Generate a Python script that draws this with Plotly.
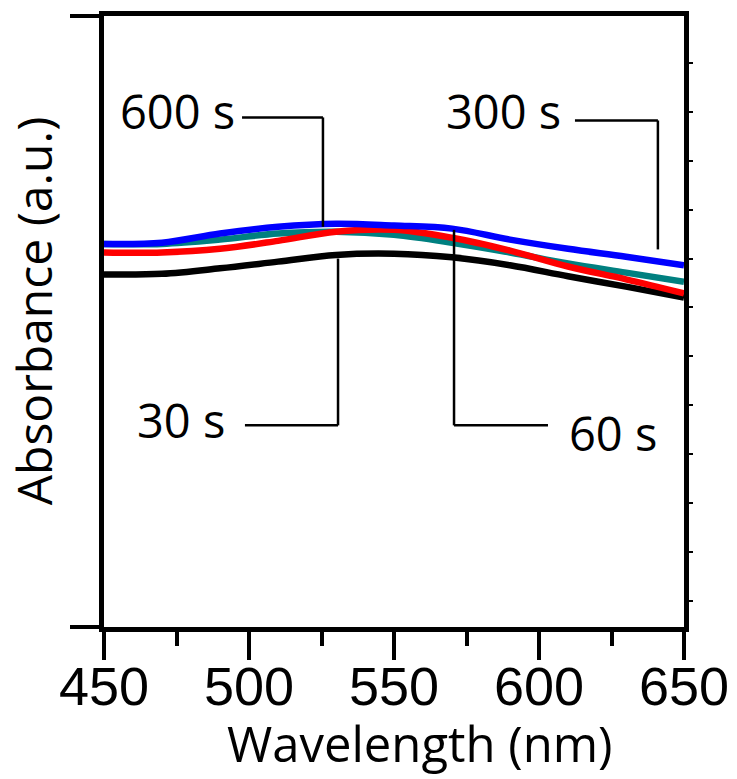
import plotly.graph_objects as go

wavelength = [450, 470, 490, 510, 530, 550, 570, 590, 610, 630, 650]
abs_30s = [0.577, 0.578, 0.587, 0.598, 0.609, 0.611, 0.605, 0.592, 0.574, 0.557, 0.539]
abs_60s = [0.613, 0.613, 0.619, 0.632, 0.647, 0.650, 0.637, 0.616, 0.590, 0.569, 0.546]
abs_300s = [0.627, 0.629, 0.644, 0.655, 0.660, 0.657, 0.652, 0.634, 0.619, 0.606, 0.592]
abs_600s = [0.627, 0.627, 0.634, 0.644, 0.647, 0.642, 0.629, 0.613, 0.595, 0.580, 0.565]

x_ticks = [450, 500, 550, 600, 650]
x_tick_labels = ["450", "500", "550", "600", "650"]

series = [
    ("30 s", abs_30s, "#000000"),
    ("600 s", abs_600s, "#008080"),
    ("60 s", abs_60s, "#FF0000"),
    ("300 s", abs_300s, "#0000FF"),
]

fig = go.Figure()
for name, vals, col in series:
    fig.add_trace(go.Scatter(x=wavelength, y=vals, mode="lines", name=name,
                             line=dict(color=col, width=6.5, shape="spline", smoothing=1.0),
                             showlegend=False))
# helper trace so the right-hand axis is drawn
fig.add_trace(go.Scatter(x=wavelength, y=abs_30s, yaxis="y2", mode="lines",
                         line=dict(width=0), opacity=0, showlegend=False, hoverinfo="skip"))

LW = 2.5
# leader lines: (label, text x, text y, horizontal x0, x1, horizontal y, vertical x, vertical end y)
leaders = [
    ("600 s", 475.5, 0.845, 497.6, 525.5, 0.834, 525.5, 0.655),
    ("300 s", 587.8, 0.845, 612.4, 641.0, 0.829, 641.0, 0.618),
    ("30 s", 476.5, 0.338, 498.6, 530.7, 0.330, 530.7, 0.603),
    ("60 s", 625.5, 0.318, 570.7, 603.1, 0.330, 570.7, 0.650),
]
shape_list = []
ann = []
for lab, tx, ty, hx0, hx1, hy, vx, vy in leaders:
    shape_list.append(dict(type="line", xref="x", yref="y", x0=hx0, x1=hx1, y0=hy, y1=hy,
                           line=dict(color="black", width=LW)))
    shape_list.append(dict(type="line", xref="x", yref="y", x0=vx, x1=vx, y0=hy, y1=vy,
                           line=dict(color="black", width=LW)))
    ann.append(dict(x=tx, y=ty, xref="x", yref="y", text=lab, showarrow=False,
                    font=dict(family="Open Sans", size=47, color="black"),
                    xanchor="center", yanchor="middle"))

ann.append(dict(x=0.545, y=-0.190, xref="paper", yref="paper", text="Wavelength (nm)",
                showarrow=False, font=dict(family="Open Sans", size=49, color="black"),
                xanchor="center", yanchor="middle"))
ann.append(dict(x=-0.121, y=0.518, xref="paper", yref="paper", text="Absorbance (a.u.)",
                showarrow=False, textangle=-90, font=dict(family="Open Sans", size=48, color="black"),
                xanchor="center", yanchor="middle"))

fig.update_layout(
    width=737, height=779,
    margin=dict(l=104, r=53, t=16, b=152, autoexpand=False),
    paper_bgcolor="white", plot_bgcolor="white",
    shapes=shape_list, annotations=ann,
    xaxis=dict(range=[450, 650], tickvals=x_ticks, ticktext=x_tick_labels,
               ticks="outside", ticklen=28, tickwidth=4, tickcolor="black",
               showline=True, linewidth=5, linecolor="black", mirror=True,
               showgrid=False, zeroline=False, automargin=False,
               ticklabelstandoff=-20,
               minor=dict(dtick=25, tick0=450, ticks="outside", ticklen=14, tickwidth=4, tickcolor="black"),
               tickfont=dict(family="Liberation Sans", size=54, color="black")),
    yaxis=dict(range=[0, 1], tickvals=[0, 1], ticktext=["", ""],
               ticks="outside", ticklen=29, tickwidth=4, tickcolor="black",
               showline=True, linewidth=5, linecolor="black",
               showgrid=False, zeroline=False, automargin=False),
    yaxis2=dict(range=[0, 1], overlaying="y", side="right", tick0=0.043, dtick=0.08,
                ticks="outside", ticklen=4, tickwidth=2, tickcolor="black",
                showticklabels=False, showline=True, linewidth=5, linecolor="black",
                showgrid=False, zeroline=False, automargin=False),
)

fig.write_html("out.html", config={"displayModeBar": False},
               post_script="document.body.style.margin='0';document.body.style.overflow='hidden';")
